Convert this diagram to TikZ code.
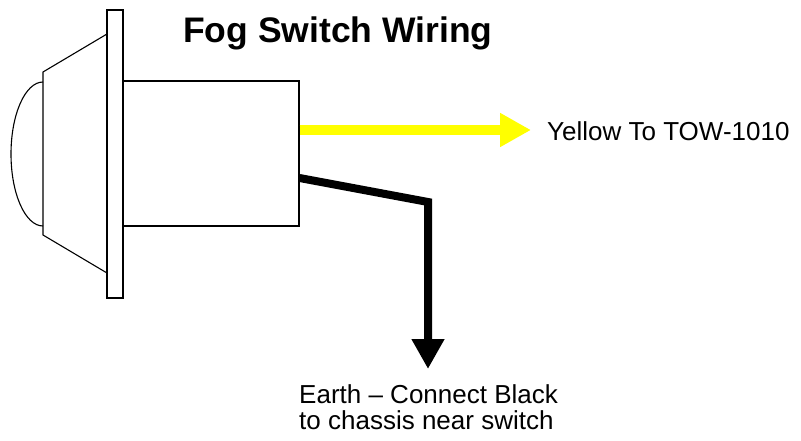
\documentclass[tikz,border=0pt]{standalone}
\usepackage{fontspec}
\setmainfont{Liberation Sans}
\usetikzlibrary{arrows.meta}
\definecolor{wireyellow}{RGB}{255,255,0}
\tikzset{
  outline/.style={draw=black, line width=1.1pt},
  partbox/.style={outline, fill=white, inner sep=0pt, minimum width=#1},
  yellowwire/.style={draw=wireyellow, line width=10pt, -{Triangle[width=32pt,length=31pt,fill=wireyellow]}},
  blackwire/.style={draw=black, line width=8pt, line join=miter, -{Triangle[width=31pt,length=30pt]}},
  labeltext/.style={inner sep=0pt, anchor=base west, font=\fontsize{26}{26}\selectfont},
}
\begin{document}
\begin{tikzpicture}[x=1pt,y=-1pt]
\useasboundingbox[fill=white] (0,0) rectangle (801,441);
% bezel and dome
\draw[outline, line join=miter] (107,34) -- (43,72) -- (43,235) -- (107,273);
\draw[outline] (43,82) .. controls (25.3,82) and (11,114.2) .. (11,154)
               .. controls (11,193.8) and (25.3,226) .. (43,226);
% flange
\node[partbox=16pt, minimum height=288pt] (flange) at (115,154) {};
% body
\node[partbox=176pt, minimum height=145pt] (body) at (211,153.5) {};
% wires
\coordinate (ystart) at (body.east |- 0,130);
\coordinate (ytip) at (531,130);
\draw[yellowwire] (ystart) -- (ytip);
\coordinate (bstart) at (body.east |- 0,178);
\coordinate (bcorner) at (428,202);
\coordinate (btip) at (428,369);
\draw[blackwire] (bstart) -- (bcorner) -- (btip);
% texts
\node[inner sep=0pt, anchor=base west, font=\bfseries\fontsize{35.5}{36}\selectfont] (title) at (183,43) {Fog Switch Wiring};
\node[labeltext] (ylabel) at (547,141) {Yellow To TOW-1010};
\node[labeltext] (earth1) at (299,403) {Earth – Connect Black};
\node[labeltext] (earth2) at (299,429) {to chassis near switch};
\end{tikzpicture}
\end{document}
